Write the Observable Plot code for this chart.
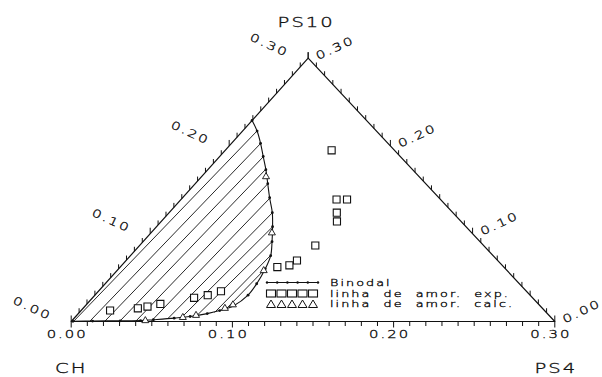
<!DOCTYPE html>
<html><head><meta charset="utf-8">
<script src="https://cdn.jsdelivr.net/npm/d3@7"></script>
<script src="https://cdn.jsdelivr.net/npm/@observablehq/plot@0.6"></script>
<style>body{margin:0;background:#fff}</style>
</head><body><div id="chart"></div>
<script>
// ---- data ----
const vertexLabels = ["CH", "PS4", "PS10"];
const majorTicks = [0.00, 0.10, 0.20, 0.30];
const majorTickLabels = ["0.00", "0.10", "0.20", "0.30"];
const minorTicks = [0,0.01,0.02,0.03,0.04,0.05,0.06,0.07,0.08,0.09,0.10,0.11,0.12,0.13,0.14,0.15,0.16,0.17,0.18,0.19,0.20,0.21,0.22,0.23,0.24,0.25,0.26,0.27,0.28,0.29,0.30];

// Binodal (PS4, PS10 mass fractions)
const binodalPS4  = [0.000,0.009,0.018,0.027,0.036,0.045,0.054,0.064,0.072,0.080,0.087,0.091,0.094,0.095,0.092,0.086,0.080,0.071,0.062,0.050,0.0425,0.030,0.013,0.001];
const binodalPS10 = [0.229,0.217,0.203,0.188,0.173,0.157,0.141,0.124,0.108,0.091,0.075,0.060,0.043,0.030,0.018,0.0125,0.009,0.0057,0.0038,0.002,0.001,0.0008,0.0005,0.0002];

// Tie lines: lower and upper phase compositions
const tieLowPS4  = [0.0014,0.0114,0.0207,0.0300,0.0399,0.0495,0.0583,0.0662,0.0746,0.0839,0.0891];
const tieLowPS10 = [0.0000,0.0000,0.0000,0.0000,0.0000,0.0006,0.0028,0.0046,0.0063,0.0103,0.0148];
const tieUpPS4   = [0.0089,0.0181,0.0272,0.0357,0.0451,0.0544,0.0641,0.0721,0.0800,0.0868,0.0910];
const tieUpPS10  = [0.2165,0.2028,0.1880,0.1732,0.1572,0.1413,0.1242,0.1082,0.0912,0.0752,0.0604];

// Experimental points (squares)
const expPS4  = [0.018,0.034,0.039,0.0455,0.063,0.070,0.076,0.0975,0.104,0.106,0.109,0.104,0.109,0.0965,0.103,0.066];
const expPS10 = [0.0125,0.015,0.017,0.020,0.027,0.030,0.0345,0.062,0.064,0.0695,0.0866,0.124,0.114,0.139,0.139,0.195];

// Calculated points (triangles)
const calcPS4  = [0.0455,0.067,0.074,0.088,0.091,0.091,0.075,0.040];
const calcPS10 = [0.001,0.0046,0.007,0.015,0.019,0.058,0.101,0.165];

const legendLabels = ["Binodal", "linha  de  amor.  exp.", "linha  de  amor.  calc."];

// ---- layout ----
const W = 602, H = 377;
const X0 = 70.7, X1 = 554.3, Y0 = 321, Y1 = 57.7;
const K = 0.49;                      // horizontal position of apex (fraction of base)
const tx = (p4, p10) => p4 + K * p10; // ternary -> cartesian
const pxY = (Y0 - Y1) / 0.3;
const tl = 4.5 / pxY, tlMaj = 6 / pxY;
const ink = "#111";
const font = "DejaVu Sans";
const isMajor = v => majorTicks.some(m => Math.abs(m - v) < 1e-9);

const corners = [[0,0],[0.3,0],[0,0.3],[0,0]];
const binodal = binodalPS4.map((v,i) => ({p4: v, p10: binodalPS10[i]}));
const ties = tieLowPS4.map((v,i) => ({a4: v, a10: tieLowPS10[i], b4: tieUpPS4[i], b10: tieUpPS10[i]}));
const exp = expPS4.map((v,i) => ({p4: v, p10: expPS10[i]}));
const calc = calcPS4.map((v,i) => ({p4: v, p10: calcPS10[i]}));
const vertices = [{p4:0,p10:0},{p4:0.3,p10:0},{p4:0,p10:0.3}];

const chart = Plot.plot({
  width: W, height: H, margin: 0,
  x: {domain: [0, 0.3], range: [X0, X1], axis: null},
  y: {domain: [0, 0.3], range: [Y0, Y1], axis: null},
  style: {background: "white", fontFamily: font},
  marks: [
    Plot.link(ties, {x1: d => tx(d.a4, d.a10), y1: "a10", x2: d => tx(d.b4, d.b10), y2: "b10", stroke: ink, strokeWidth: 0.9}),
    Plot.line(corners, {x: d => tx(d[0], d[1]), y: d => d[1], stroke: ink, strokeWidth: 1.2}),
    Plot.link(minorTicks, {x1: v => tx(v, 0), y1: 0, x2: v => tx(v, 0), y2: v => isMajor(v) ? -tlMaj : -tl, stroke: ink, strokeWidth: 1}),
    Plot.link(minorTicks, {x1: v => tx(0, v), y1: v => v, x2: v => tx(0, v), y2: v => v + (isMajor(v) ? tlMaj : tl), stroke: ink, strokeWidth: 1}),
    Plot.link(minorTicks, {x1: v => tx(0.3 - v, v), y1: v => v, x2: v => tx(0.3 - v, v), y2: v => v + (isMajor(v) ? tlMaj : tl), stroke: ink, strokeWidth: 1}),
    Plot.text(majorTicks, {x: v => tx(v, 0), y: 0, text: (v, i) => majorTickLabels[i], dx: -4, dy: 13, fontSize: 11, fill: ink}),
    Plot.text(majorTicks, {x: v => tx(0, v), y: v => v, text: (v, i) => majorTickLabels[i], dx: -39, dy: -13, rotate: 25, fontSize: 11, fill: ink}),
    Plot.text(majorTicks, {x: v => tx(0.3 - v, v), y: v => v, text: (v, i) => majorTickLabels[i], dx: 27, dy: -10, rotate: -25, fontSize: 11, fill: ink}),
    Plot.text(vertices.slice(0,1), {x: d => tx(d.p4, d.p10), y: "p10", text: () => vertexLabels[0], dy: 47, fontSize: 14.5, fill: ink}),
    Plot.text(vertices.slice(1,2), {x: d => tx(d.p4, d.p10), y: "p10", text: () => vertexLabels[1], dy: 47, dx: 1, fontSize: 14.5, fill: ink}),
    Plot.text(vertices.slice(2,3), {x: d => tx(d.p4, d.p10), y: "p10", text: () => vertexLabels[2], dy: -36, dx: -2, fontSize: 14.5, fill: ink}),
    Plot.line(binodal, {x: d => tx(d.p4, d.p10), y: "p10", stroke: ink, strokeWidth: 1.1, curve: "catmull-rom"}),
    Plot.dot(binodal, {x: d => tx(d.p4, d.p10), y: "p10", r: 1.4, fill: ink}),
    Plot.dot(calc, {x: d => tx(d.p4, d.p10), y: "p10", symbol: "triangle", r: 2.6, stroke: ink, fill: "white", strokeWidth: 0.9}),
    Plot.dot(exp, {x: d => tx(d.p4, d.p10), y: "p10", symbol: "square", r: 4, stroke: ink, fill: "white", strokeWidth: 1.1})
  ]
});

const svg = d3.select(chart);
// legend
const lg = svg.append("g").attr("stroke", ink).attr("fill", "none");
const lx0 = 267, lx1 = 318, rows = [282.5, 293.5, 304];
lg.append("line").attr("x1", lx0).attr("x2", lx1).attr("y1", rows[0]).attr("y2", rows[0]).attr("stroke-width", 1);
d3.range(6).forEach(i => lg.append("circle").attr("cx", lx0 + i * (lx1 - lx0) / 5).attr("cy", rows[0]).attr("r", 1.2).attr("fill", ink).attr("stroke", "none"));
d3.range(5).forEach(i => {
  const cx = lx0 + 4 + i * 10.5;
  lg.append("rect").attr("x", cx - 4.5).attr("y", rows[1] - 3.5).attr("width", 9).attr("height", 7).attr("stroke-width", 1.1);
  lg.append("path").attr("d", `M${cx - 4.5},${rows[2] + 3.5}L${cx + 4.5},${rows[2] + 3.5}L${cx},${rows[2] - 4}Z`).attr("stroke-width", 1);
});
const lt = svg.append("g").attr("class", "legend-text").attr("text-anchor", "start");
legendLabels.forEach((t, i) => {
  lt.append("text").attr("transform", `translate(330,${rows[i]})`).attr("dy", "0.35em")
    .attr("font-size", 9.5).attr("fill", ink).attr("font-family", font).text(t);
});

// thin, horizontally stretched lettering like the plotter font
svg.selectAll("text").each(function () {
  const t = this.getAttribute("transform") || "";
  this.setAttribute("transform", t + " scale(1.35,1)");
  this.setAttribute("font-weight", "200");
  this.setAttribute("stroke", ink);
  this.setAttribute("stroke-width", "0.35");
  const small = this.parentNode.getAttribute("class") === "legend-text";
  this.setAttribute("letter-spacing", small ? "1.5" : "1.5");
});

document.getElementById("chart").appendChild(chart);
</script>
</body></html>
